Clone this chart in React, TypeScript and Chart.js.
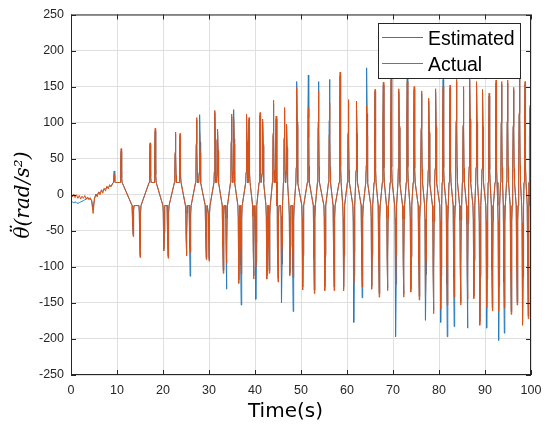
import React, { useEffect, useRef } from 'react';
import { Chart, registerables, Plugin } from 'chart.js';
Chart.register(...registerables);

// tick labels
const xTickValues = [0, 10, 20, 30, 40, 50, 60, 70, 80, 90, 100];
const yTickValues = [-250, -200, -150, -100, -50, 0, 50, 100, 150, 200, 250];

// slow, noisy wave before the spikes start (0 - 9 s)
const waveTimes = [0, 0.3, 0.6, 0.9, 1.2, 1.5, 1.8, 2.1, 2.4, 2.7, 3.0, 3.3, 3.6, 3.9, 4.2, 4.5, 4.8, 5.1, 5.4, 5.7, 6.0, 6.3, 6.6, 6.9, 7.2, 7.5, 7.8, 8.1, 8.4, 8.7];
const waveActual = [2, -3, 1, -4, 0, -5, -1, -6, -2, -5, -1, -6, -3, -7, -4, -9, -26, -6, 1, -3, 4, 0, 7, 2, 9, 5, 12, 8, 14, 11];
const waveEstimated = [-9, -10, -11, -10, -11, -12, -11, -10, -9, -8, -7, -6, -5, -5, -6, -8, -20, -5, 0, 0, 3, 3, 5, 5, 8, 8, 10, 10, 12, 12];

// spike tips
const spikeTimes = [
  9.4, 10.9, 13.5, 15.0, 17.2, 18.3, 20.2, 21.1, 22.7, 23.7,
  25.1, 25.9, 27.3, 28.0, 29.4, 30.0, 31.3, 31.9, 33.1, 33.8,
  34.9, 35.4, 36.5, 37.0, 38.2, 38.7, 39.7, 40.2, 41.1, 41.7,
  42.6, 43.1, 44.0, 44.6, 45.0, 45.8, 46.4, 46.9, 47.6, 48.3,
  49.1, 50.4, 51.6, 52.9, 53.8, 55.2, 56.2, 57.2, 58.5, 59.3,
  60.3, 61.5, 62.1, 63.3, 64.3, 65.4, 66.1, 67.0, 67.9, 68.8,
  69.6, 70.6, 71.3, 72.3, 73.1, 73.9, 74.6, 75.7, 76.2, 77.1,
  77.8, 78.8, 79.3, 80.4, 80.9, 81.8, 82.4, 83.3, 83.8, 84.7,
  85.3, 86.2, 86.7, 87.6, 88.2, 88.9, 89.5, 90.4, 90.9, 91.6,
  92.4, 93.0, 93.6, 94.2, 94.9, 95.7, 96.2, 97.0, 97.5, 98.2,
  98.7, 99.4, 99.8,
];
const spikeActual = [
  28, 64, -58, -87, 72, 92, -78, -88, 87, 85,
  -85, -80, 107, 86, -90, -92, 117, 91, -109, -95,
  112, 105, -123, -110, 112, 107, -117, -100, 114, 105,
  -117, -109, 131, 109, -121, -110, 121, 98, -112, -115,
  149, -132, 121, -137, 144, -133, 127, -133, 170, -133,
  132, -122, 130, -128, 124, -131, 146, -142, 156, -133,
  164, -127, 147, -142, 157, -135, 150, -146, 144, -142,
  134, -165, 147, -159, 150, -153, 152, -142, 160, -153,
  150, -145, 164, -144, 157, -181, 146, -157, 141, -161,
  159, -161, 157, -157, 159, -166, 149, -153, 178, -181,
  157, -172, 124,
];
const spikeEstimated = [
  33, 60, -55, -84, 70, 88, -75, -85, 84, 82,
  -82, -113, 104, 111, -87, -89, 114, 88, -105, -131,
  108, 118, -118, -153, 108, 104, -112, -145, 110, 101,
  -112, -105, 126, 105, -116, -150, 117, 95, -108, -162,
  157, -128, 166, -132, 157, -128, 160, -128, 165, -128,
  128, -177, 126, -143, 176, -127, 143, -137, 152, -129,
  160, -197, 143, -138, 164, -131, 146, -141, 140, -174,
  130, -160, 143, -177, 160, -197, 148, -183, 156, -149,
  146, -185, 160, -140, 153, -176, 142, -185, 137, -157,
  155, -202, 153, -192, 155, -162, 145, -149, 174, -176,
  153, -168, 120,
];

// level of the slow wave where the up and down spikes start
const UP_FOOT = 17;
const DOWN_FOOT = -15;
// outline of one spike: [time offset (s), share of the height]
const SPIKE_SHAPE = [[-0.22, 0], [-0.14, 0.15], [-0.08, 0.6], [0, 1], [0.08, 0.6], [0.14, 0.15], [0.22, 0]];

const buildSeries = (wave: number[], peaks: number[]) => {
  const pts = waveTimes.map((t, i) => ({ x: t, y: wave[i] }));
  spikeTimes.forEach((t, i) => {
    const p = peaks[i];
    const foot = p > 0 ? UP_FOOT : DOWN_FOOT;
    SPIKE_SHAPE.forEach(([dt, f]) => pts.push({ x: t + dt, y: foot + (p - foot) * f }));
  });
  return pts.sort((a, b) => a.x - b.x);
};

const BLUE = '#2a7dbb';
const ORANGE = '#D95319';
const AXIS = '#262626';

// MATLAB-like box, inward ticks, legend and axis labels
const matlabPlugin: Plugin = {
  id: 'matlabBox',
  afterDraw(chart) {
    const { ctx, chartArea: a, scales } = chart;
    ctx.save();
    ctx.strokeStyle = AXIS;
    ctx.lineWidth = 1;
    ctx.strokeRect(a.left + 0.5, a.top + 0.5, a.right - a.left - 1, a.bottom - a.top - 1);
    ctx.beginPath();
    xTickValues.forEach((v) => {
      const px = Math.round(scales.x.getPixelForValue(v)) + 0.5;
      ctx.moveTo(px, a.bottom); ctx.lineTo(px, a.bottom - 5);
      ctx.moveTo(px, a.top); ctx.lineTo(px, a.top + 5);
    });
    yTickValues.forEach((v) => {
      const py = Math.round(scales.y.getPixelForValue(v)) + 0.5;
      ctx.moveTo(a.left, py); ctx.lineTo(a.left + 5, py);
      ctx.moveTo(a.right, py); ctx.lineTo(a.right - 5, py);
    });
    ctx.stroke();

    // legend
    ctx.fillStyle = '#fff';
    ctx.fillRect(378, 23, 142, 55);
    ctx.strokeStyle = AXIS;
    ctx.strokeRect(378.5, 23.5, 142, 55);
    ctx.lineWidth = 1.2;
    ctx.strokeStyle = BLUE;
    ctx.beginPath(); ctx.moveTo(382, 37.5); ctx.lineTo(423, 37.5); ctx.stroke();
    ctx.strokeStyle = ORANGE;
    ctx.beginPath(); ctx.moveTo(382, 63.5); ctx.lineTo(423, 63.5); ctx.stroke();
    ctx.fillStyle = '#000';
    ctx.font = "19.5px 'Liberation Sans', Arial, sans-serif";
    ctx.textAlign = 'left';
    ctx.textBaseline = 'alphabetic';
    ctx.fillText('Estimated', 428, 45);
    ctx.fillText('Actual', 428, 71);

    // x label
    ctx.font = "20px 'DejaVu Sans', sans-serif";
    ctx.textAlign = 'center';
    ctx.fillText('Time(s)', 285.5, 417);

    // y label: theta with a double dot, then the unit
    ctx.translate(29, 195);
    ctx.rotate(-Math.PI / 2);
    ctx.font = "italic 20px 'DejaVu Serif', serif";
    ctx.textAlign = 'left';
    const unit = '(rad/s²)';
    const thetaW = ctx.measureText('θ').width;
    const x0 = -(thetaW + ctx.measureText(unit).width) / 2;
    ctx.fillText('θ', x0, 0);
    ctx.fillText(unit, x0 + thetaW, 0);
    const dotsW = ctx.measureText('¨').width;
    ctx.fillText('¨', x0 + (thetaW - dotsW) / 2 + 2, -4);
    ctx.restore();
  },
};

const tickFont = { family: "'Liberation Sans', Arial, sans-serif", size: 12.5 };

const AccelChart = () => {
  const canvasRef = useRef<HTMLCanvasElement | null>(null);

  useEffect(() => {
    if (!canvasRef.current) return;
    const chart = new Chart(canvasRef.current, {
      type: 'line',
      data: {
        datasets: [
          {
            label: 'Estimated',
            data: buildSeries(waveEstimated, spikeEstimated),
            borderColor: BLUE,
            borderWidth: 1,
            pointRadius: 0,
            tension: 0,
            order: 1,
          },
          {
            label: 'Actual',
            data: buildSeries(waveActual, spikeActual),
            borderColor: ORANGE,
            borderWidth: 1,
            pointRadius: 0,
            tension: 0,
            order: 0,
          },
        ],
      },
      options: {
        animation: false,
        responsive: true,
        maintainAspectRatio: false,
        layout: { padding: { left: 0, top: 13, right: 19, bottom: 0 } },
        plugins: { legend: { display: false }, tooltip: { enabled: false } },
        scales: {
          x: {
            type: 'linear',
            min: 0,
            max: 100,
            afterBuildTicks: (s) => { s.ticks = xTickValues.map((v) => ({ value: v })); },
            afterFit: (s) => { s.height = 54; },
            grid: { color: '#dfdfdf', drawTicks: false },
            border: { display: false },
            ticks: { font: tickFont, color: AXIS, padding: 8, maxRotation: 0 },
          },
          y: {
            type: 'linear',
            min: -250,
            max: 250,
            afterBuildTicks: (s) => { s.ticks = yTickValues.map((v) => ({ value: v })); },
            afterFit: (s) => { s.width = 71; },
            grid: { color: '#dfdfdf', drawTicks: false },
            border: { display: false },
            ticks: { font: tickFont, color: AXIS, padding: 7 },
          },
        },
      },
      plugins: [matlabPlugin],
    });
    return () => chart.destroy();
  }, []);

  return (
    <div style={{ position: 'absolute', left: 0, top: 0, width: '550px', height: '429px' }}>
      <canvas ref={canvasRef} />
    </div>
  );
};

const App = () => <AccelChart />;

export default App;
